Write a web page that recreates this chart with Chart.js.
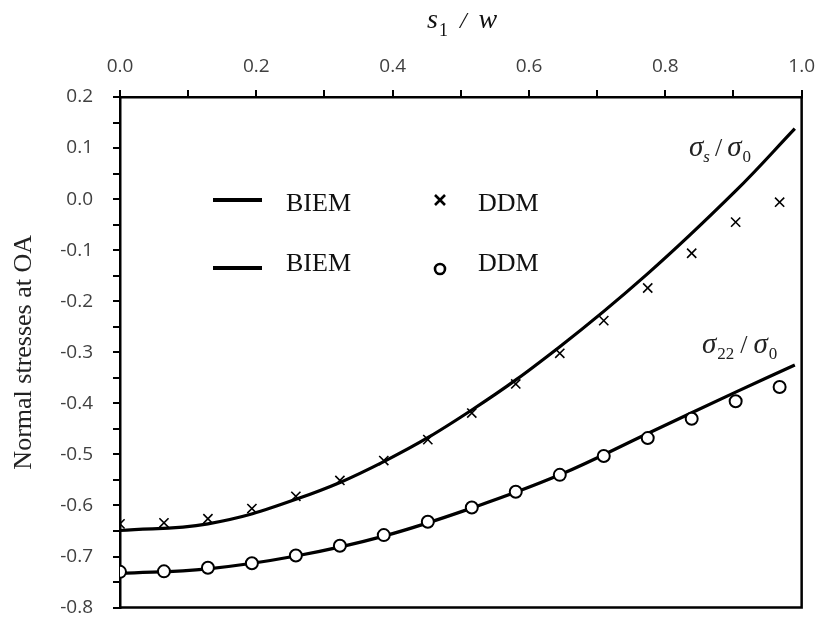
<!DOCTYPE html>
<html>
  <head>
    <meta charset="utf-8">
    <title>Normal stresses at OA</title>
    <style>
      body { margin: 0; background: #ffffff; }
      #wrap { width: 827px; height: 639px; }
    </style>
  </head>
  <body>
    <div id="wrap"><canvas id="canvas" width="827" height="639"></canvas></div>
    <script src="https://cdn.jsdelivr.net/npm/chart.js@4/dist/chart.umd.min.js"></script>
    <script>
      // DDM sample positions (s1/w) and values
      var ddmX = [0, 0.0645, 0.129, 0.1935, 0.258, 0.3226, 0.387, 0.4516, 0.5161, 0.5806, 0.6452, 0.7097, 0.7742, 0.8387, 0.9032, 0.9677];
      var ddmSigmaS = [-0.636, -0.634, -0.626, -0.606, -0.582, -0.551, -0.512, -0.471, -0.419, -0.362, -0.302, -0.238, -0.174, -0.106, -0.045, -0.006];
      var ddmSigma22 = [-0.730, -0.729, -0.722, -0.713, -0.698, -0.679, -0.658, -0.632, -0.604, -0.573, -0.540, -0.503, -0.468, -0.430, -0.396, -0.368];

      // BIEM curves
      var biemX = [0, 0.129, 0.258, 0.387, 0.5161, 0.6452, 0.7742, 0.9032, 0.99];
      var biemSigmaS = [-0.649, -0.636, -0.588, -0.514, -0.413, -0.289, -0.146, 0.016, 0.138];
      var biemSigma22 = [-0.733, -0.724, -0.699, -0.660, -0.605, -0.540, -0.459, -0.378, -0.325];

      var xTicks = { min: 0, max: 1, step: 0.1 };
      var yTicks = { min: -0.8, max: 0.2, step: 0.05 };

      function pairs(xs, ys) {
        var out = [];
        for (var i = 0; i < xs.length; i++) out.push({ x: xs[i], y: ys[i] });
        return out;
      }

      var serif = '"Liberation Serif", "Times New Roman", serif';

      // draws a run of text pieces (for subscripts) starting at x, baseline y
      function drawParts(ctx, x, y, parts) {
        parts.forEach(function (p) {
          ctx.font = p.font;
          ctx.fillText(p.t, x, y + (p.dy || 0));
          x += ctx.measureText(p.t).width + (p.gap || 0);
        });
      }

      var decorations = {
        id: 'decorations',
        afterDraw: function (chart) {
          var ctx = chart.ctx;
          var a = chart.chartArea;
          ctx.save();
          // frame right and bottom
          ctx.strokeStyle = '#000';
          ctx.lineWidth = 2.5;
          ctx.beginPath();
          ctx.moveTo(a.left, a.bottom);
          ctx.lineTo(a.right, a.bottom);
          ctx.lineTo(a.right, a.top);
          ctx.stroke();

          ctx.fillStyle = '#111';
          ctx.textAlign = 'left';
          ctx.textBaseline = 'alphabetic';

          // top axis title  s1 / w
          drawParts(ctx, 427, 28, [
            { t: 's', font: 'italic 28px ' + serif, gap: 1 },
            { t: '1', font: '18px ' + serif, dy: 8, gap: 12 },
            { t: '/', font: 'italic 24px ' + serif, gap: 12 },
            { t: 'w', font: 'italic 28px ' + serif }
          ]);

          // legend
          ctx.lineWidth = 4;
          ctx.beginPath();
          ctx.moveTo(213, 200); ctx.lineTo(262, 200);
          ctx.moveTo(213, 268); ctx.lineTo(262, 268);
          ctx.stroke();
          ctx.font = '26px ' + serif;
          ctx.fillText('BIEM', 286, 211);
          ctx.fillText('BIEM', 286, 271);
          ctx.fillText('DDM', 478, 211);
          ctx.fillText('DDM', 478, 271);
          ctx.lineWidth = 2.6;
          ctx.beginPath();
          ctx.moveTo(435, 195); ctx.lineTo(445, 205);
          ctx.moveTo(445, 195); ctx.lineTo(435, 205);
          ctx.stroke();
          ctx.beginPath();
          ctx.arc(440, 269, 5, 0, Math.PI * 2);
          ctx.stroke();

          // curve labels
          ctx.fillStyle = '#222';
          drawParts(ctx, 689, 156, [
            { t: '\u03c3', font: 'italic 29px ' + serif, gap: 0 },
            { t: 's', font: 'italic 17px ' + serif, dy: 6, gap: 5 },
            { t: '/', font: '26px ' + serif, gap: 5 },
            { t: '\u03c3', font: 'italic 29px ' + serif, gap: 1 },
            { t: '0', font: '17px ' + serif, dy: 6 }
          ]);
          drawParts(ctx, 702, 353, [
            { t: '\u03c3', font: 'italic 29px ' + serif, gap: 1 },
            { t: '22', font: '17px ' + serif, dy: 6, gap: 6 },
            { t: '/', font: '26px ' + serif, gap: 6 },
            { t: '\u03c3', font: 'italic 29px ' + serif, gap: 1 },
            { t: '0', font: '17px ' + serif, dy: 6 }
          ]);
          ctx.restore();
        }
      };

      var ctx = document.getElementById('canvas').getContext('2d');
      var myChart = new Chart(ctx, {
        type: 'line',
        data: {
          datasets: [
            {
              label: 'DDM sigma_s', type: 'scatter', data: pairs(ddmX, ddmSigmaS), order: 1,
              pointStyle: 'crossRot', pointRadius: 6.5, borderColor: '#000', borderWidth: 1.6,
              showLine: false
            },
            {
              label: 'DDM sigma_22', type: 'scatter', data: pairs(ddmX, ddmSigma22), order: 1,
              pointStyle: 'circle', pointRadius: 6, borderColor: '#000', backgroundColor: '#fff',
              borderWidth: 2, showLine: false
            },
            {
              label: 'BIEM sigma_s', data: pairs(biemX, biemSigmaS), order: 2,
              borderColor: '#000', borderWidth: 3.2, pointRadius: 0,
              tension: 0.4, fill: false
            },
            {
              label: 'BIEM sigma_22', data: pairs(biemX, biemSigma22), order: 2,
              borderColor: '#000', borderWidth: 3.2, pointRadius: 0,
              tension: 0.4, fill: false
            }
          ]
        },
        options: {
          responsive: false,
          animation: false,
          devicePixelRatio: 1,
          layout: { padding: { left: 0, top: 0, right: 14, bottom: 12 } },
          plugins: { legend: { display: false }, tooltip: { enabled: false } },
          scales: {
            x: {
              type: 'linear', position: 'top',
              min: xTicks.min, max: xTicks.max,
              afterFit: function (s) { s.height = 97; },
              border: { display: true, color: '#000', width: 2.5 },
              grid: { drawOnChartArea: false, drawTicks: true, tickLength: 7, color: '#000', lineWidth: 2 },
              ticks: {
                stepSize: xTicks.step, autoSkip: false, maxRotation: 0, padding: 12,
                color: '#404040', font: { family: '"Open Sans", sans-serif', size: 19 },
                callback: function (v) {
                  return Math.round(v * 10) % 2 === 0 ? v.toFixed(1) : '';
                }
              }
            },
            y: {
              type: 'linear', position: 'left',
              min: yTicks.min, max: yTicks.max,
              afterFit: function (s) { s.width = 120; },
              border: { display: true, color: '#000', width: 2.5 },
              grid: { drawOnChartArea: false, drawTicks: true, tickLength: 7, color: '#000', lineWidth: 2 },
              title: {
                display: true, text: 'Normal stresses at OA', color: '#222',
                font: { family: serif, size: 26 }, padding: { top: 9, bottom: 0 }
              },
              ticks: {
                stepSize: yTicks.step, autoSkip: false, padding: 20,
                color: '#404040', font: { family: '"Open Sans", sans-serif', size: 19 },
                callback: function (v) {
                  if (Math.round(Math.abs(v) * 20) % 2 !== 0) return '';
                  if (Math.abs(v) < 1e-9) return '0.0';
                  return v.toFixed(1);
                }
              }
            }
          }
        },
        plugins: [decorations]
      });
    </script>
  </body>
</html>
